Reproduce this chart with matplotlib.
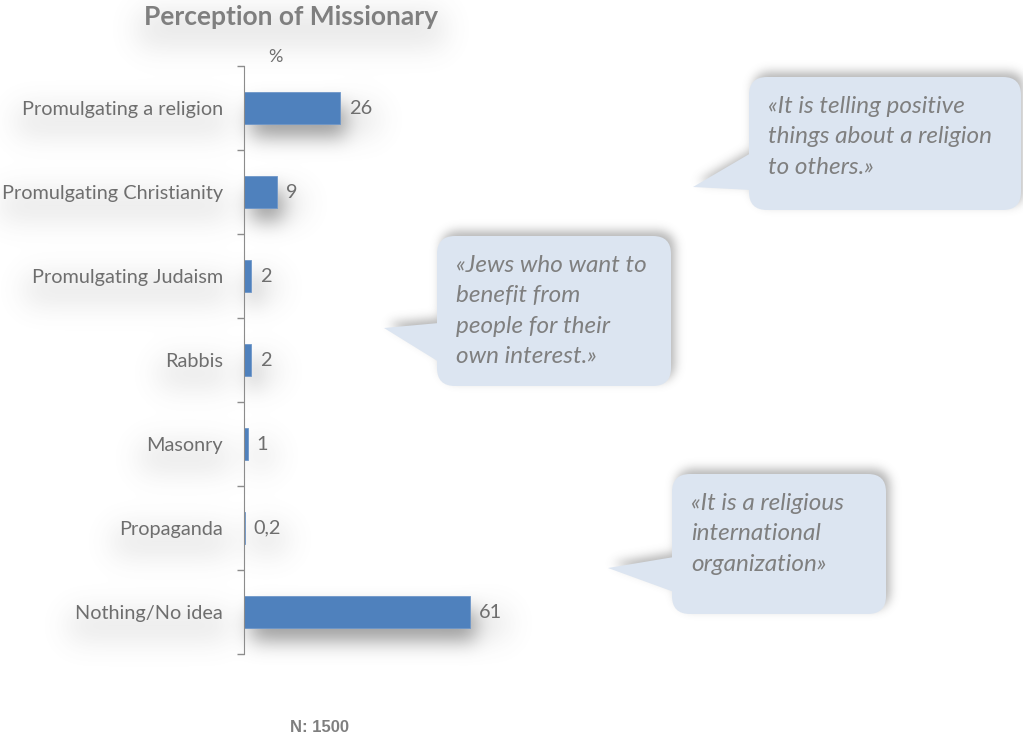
import numpy as np
import matplotlib
matplotlib.use("Agg")
import matplotlib.pyplot as plt
from matplotlib.patches import FancyBboxPatch, Polygon

categories = ["Promulgating a religion", "Promulgating Christianity", "Promulgating Judaism",
              "Rabbis", "Masonry", "Propaganda", "Nothing/No idea"]
values = [26, 9, 2, 2, 1, 0.2, 61]
value_labels = ["26", "9", "2", "2", "1", "0,2", "61"]

quotes = ["«It is telling positive\nthings about a religion\nto others.»",
          "«Jews who want to\nbenefit from\npeople for their\nown interest.»",
          "«It is a religious\ninternational\norganization»"]
# bubble boxes in pixels: left, top, right, bottom ; tail: top join y, tip (x, y), bottom join y
bubble_boxes = [(749, 77, 1021, 210), (437, 236, 671, 386), (672, 474, 886, 614)]
bubble_tails = [(153, 693, 187, 190), (323, 384, 328, 362), (557, 608, 568, 592)]

W, H = 1023, 738
GREY = "#7f7f7f"
LABEL = "#6e6e6e"
BAR = "#4f81bd"
BUBBLE = "#dce5f1"


def blur(img, sigma):
    r = int(3 * sigma)
    k = np.exp(-0.5 * (np.arange(-r, r + 1) / sigma) ** 2)
    k /= k.sum()
    img = np.apply_along_axis(lambda m: np.convolve(m, k, mode="same"), 1, img)
    img = np.apply_along_axis(lambda m: np.convolve(m, k, mode="same"), 0, img)
    return img


def mask_from_path(path, dx=0, dy=0):
    xs = np.arange(W) + 0.5 - dx
    ys = H - (np.arange(H) + 0.5) + dy
    gx, gy = np.meshgrid(xs, ys)
    pts = np.column_stack([gx.ravel(), gy.ravel()])
    return path.contains_points(pts).reshape(H, W).astype(float)


def mask_from_bbox(bb, dx=0, dy=0, grow=0):
    m = np.zeros((H, W))
    x0, x1 = int(bb.x0 + dx - grow), int(bb.x1 + dx + grow)
    r0, r1 = int(H - bb.y1 - dy - grow), int(H - bb.y0 - dy + grow)
    m[max(r0, 0):max(r1, 0), max(x0, 0):max(x1, 0)] = 1
    return m


fig = plt.figure(figsize=(W / 100, H / 100), dpi=100)
fig.patch.set_facecolor("white")

bg = fig.add_axes([0, 0, 1, 1], zorder=-1)
bg.set_xlim(0, W)
bg.set_ylim(H, 0)
bg.axis("off")

# bar chart
ax = fig.add_axes([244 / W, (H - 654) / H, 371 / W, 588 / H], zorder=1)
ax.patch.set_alpha(0)
y = np.arange(len(categories))
bars = ax.barh(y, values, height=0.39, color=BAR, edgecolor="#6f97c9", linewidth=0.6)
ax.set_xlim(0, 100)
ax.set_ylim(len(categories) - 0.5, -0.5)
ax.set_yticks(y)
ax.set_yticklabels(categories, fontsize=14.3, color=LABEL, family="Lato")
ax.set_yticks(np.arange(len(categories) + 1) - 0.5, minor=True)
ax.tick_params(axis="y", which="major", length=0, pad=15)
ax.tick_params(axis="y", which="minor", length=5, color="#8c8c8c", width=1)
ax.set_xticks([])
for s in ["top", "right", "bottom"]:
    ax.spines[s].set_visible(False)
ax.spines["left"].set_color("#8c8c8c")

value_texts = []
for yi, v, lab in zip(y, values, value_labels):
    t = ax.annotate(lab, (v, yi), xytext=(6.5, 0), textcoords="offset points",
                    va="center", ha="left", fontsize=14.3, color=LABEL, family="Lato")
    value_texts.append(t)

ax.text(31 / 371, 1 + 9 / 588, "%", transform=ax.transAxes, ha="center", va="center",
        fontsize=13, color=LABEL, family="Lato")

title = fig.text(291 / W, 1 - 17 / H, "Perception of Missionary", ha="center", va="center",
                 fontsize=19, fontweight="bold", color=GREY, family="Lato")
fig.text(319 / W, 1 - 727 / H, "N: 1500", ha="center", va="center", fontsize=12,
         fontweight="bold", color=GREY, family="Liberation Sans")

# speech bubbles
top = fig.add_axes([0, 0, 1, 1], zorder=2)
top.set_xlim(0, W)
top.set_ylim(H, 0)
top.axis("off")
bubble_patches = []
for (l, t, r, b), (ty0, tx, ty, ty1), q in zip(bubble_boxes, bubble_tails, quotes):
    box = FancyBboxPatch((l + 18, t + 18), r - l - 36, b - t - 36,
                         boxstyle="round,pad=18,rounding_size=18",
                         facecolor=BUBBLE, edgecolor="none")
    tail = Polygon([(l + 2, ty0), (tx, ty), (l + 2, ty1)], closed=True,
                   facecolor=BUBBLE, edgecolor="none")
    top.add_patch(box)
    top.add_patch(tail)
    bubble_patches += [box, tail]
    top.text(l + 19, t + 19, q, ha="left", va="top", fontsize=17.5, style="italic",
             color=GREY, family="Lato", linespacing=1.55)

fig.canvas.draw()
renderer = fig.canvas.get_renderer()

# soft drop shadows
dark = np.zeros((H, W))
for bar in bars:
    if bar.get_width() < 2:
        continue
    bb = bar.get_window_extent(renderer)
    dark += mask_from_bbox(bb, dx=6, dy=-14, grow=-1)
dark = blur(np.clip(dark, 0, 1), 10) * 0.6

soft = np.zeros((H, W))
for p in bubble_patches:
    path = p.get_transform().transform_path(p.get_path())
    soft += mask_from_path(path, dx=4, dy=-5)
soft = blur(np.clip(soft, 0, 1), 5) * 0.45

haze = np.zeros((H, W))
for t in list(ax.get_yticklabels()) + value_texts + [title]:
    haze += mask_from_bbox(t.get_window_extent(renderer), dy=-12, grow=6)
haze = blur(np.clip(haze, 0, 1), 14) * 0.14

alpha = np.clip(dark + soft + haze, 0, 1)
rgba = np.zeros((H, W, 4))
rgba[..., :3] = 0.35
rgba[..., 3] = alpha
bg.imshow(rgba, extent=(0, W, H, 0), interpolation="bilinear", zorder=0)
bg.set_xlim(0, W)
bg.set_ylim(H, 0)

fig.savefig("out.png", dpi=100)
